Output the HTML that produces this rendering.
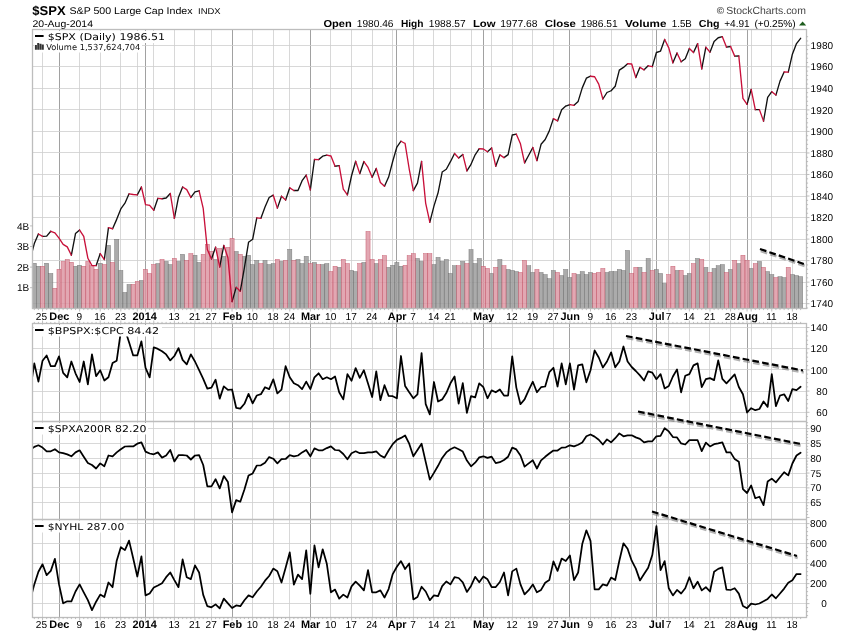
<!DOCTYPE html>
<html><head><meta charset="utf-8"><title>$SPX S&amp;P 500 Large Cap Index</title>
<style>html,body{margin:0;padding:0;background:#fff}svg{display:block}</style></head>
<body>
<svg width="850" height="633" viewBox="0 0 850 633">
<rect width="850" height="633" fill="#fff"/>
<defs><clipPath id="c1"><rect x="32.5" y="29.5" width="774.0" height="279.0"/></clipPath>
<clipPath id="c2"><rect x="32.5" y="323.5" width="774.0" height="98.0"/></clipPath>
<clipPath id="c3"><rect x="32.5" y="421.5" width="774.0" height="98.0"/></clipPath>
<clipPath id="c4"><rect x="32.5" y="519.5" width="774.0" height="98.0"/></clipPath><filter id="bl" x="-5%" y="-20%" width="110%" height="140%"><feGaussianBlur stdDeviation="0.7"/></filter></defs>
<path d="M42.5 29.5V308.5M79.5 29.5V308.5M100.5 29.5V308.5M120.5 29.5V308.5M137.5 29.5V308.5M153.5 29.5V308.5M174.5 29.5V308.5M194.5 29.5V308.5M211.5 29.5V308.5M252.5 29.5V308.5M273.5 29.5V308.5M289.5 29.5V308.5M330.5 29.5V308.5M351.5 29.5V308.5M372.5 29.5V308.5M392.5 29.5V308.5M413.5 29.5V308.5M433.5 29.5V308.5M450.5 29.5V308.5M471.5 29.5V308.5M491.5 29.5V308.5M512.5 29.5V308.5M532.5 29.5V308.5M553.5 29.5V308.5M590.5 29.5V308.5M611.5 29.5V308.5M631.5 29.5V308.5M652.5 29.5V308.5M668.5 29.5V308.5M689.5 29.5V308.5M709.5 29.5V308.5M730.5 29.5V308.5M751.5 29.5V308.5M771.5 29.5V308.5M792.5 29.5V308.5M42.5 323.5V617.5M79.5 323.5V617.5M100.5 323.5V617.5M120.5 323.5V617.5M137.5 323.5V617.5M153.5 323.5V617.5M174.5 323.5V617.5M194.5 323.5V617.5M211.5 323.5V617.5M252.5 323.5V617.5M273.5 323.5V617.5M289.5 323.5V617.5M330.5 323.5V617.5M351.5 323.5V617.5M372.5 323.5V617.5M392.5 323.5V617.5M413.5 323.5V617.5M433.5 323.5V617.5M450.5 323.5V617.5M471.5 323.5V617.5M491.5 323.5V617.5M512.5 323.5V617.5M532.5 323.5V617.5M553.5 323.5V617.5M590.5 323.5V617.5M611.5 323.5V617.5M631.5 323.5V617.5M652.5 323.5V617.5M668.5 323.5V617.5M689.5 323.5V617.5M709.5 323.5V617.5M730.5 323.5V617.5M751.5 323.5V617.5M771.5 323.5V617.5M792.5 323.5V617.5" stroke="#cecece" stroke-width="0.8" fill="none"/>
<path d="M59.5 29.5V308.5M145.5 29.5V308.5M232.5 29.5V308.5M310.5 29.5V308.5M396.5 29.5V308.5M483.5 29.5V308.5M569.5 29.5V308.5M656.5 29.5V308.5M747.5 29.5V308.5M59.5 323.5V617.5M145.5 323.5V617.5M232.5 323.5V617.5M310.5 323.5V617.5M396.5 323.5V617.5M483.5 323.5V617.5M569.5 323.5V617.5M656.5 323.5V617.5M747.5 323.5V617.5" stroke="#9c9c9c" stroke-width="0.95" fill="none"/>
<path d="M32.5 303.5H806.5M32.5 282.5H806.5M32.5 260.5H806.5M32.5 239.5H806.5M32.5 217.5H806.5M32.5 196.5H806.5M32.5 174.5H806.5M32.5 152.5H806.5M32.5 131.5H806.5M32.5 109.5H806.5M32.5 88.5H806.5M32.5 66.5H806.5M32.5 45.5H806.5M32.5 412.5H806.5M32.5 391.5H806.5M32.5 369.5H806.5M32.5 348.5H806.5M32.5 327.5H806.5M32.5 502.5H806.5M32.5 487.5H806.5M32.5 473.5H806.5M32.5 458.5H806.5M32.5 443.5H806.5M32.5 428.5H806.5M32.5 603.5H806.5M32.5 583.5H806.5M32.5 563.5H806.5M32.5 543.5H806.5M32.5 523.5H806.5" stroke="#cecece" stroke-width="0.8" fill="none"/>
<g fill="#9c9c9c" fill-opacity="0.85" stroke="#666" stroke-opacity="0.75" stroke-width="0.55"><rect x="32.24" y="263.3" width="4.12" height="45"/><rect x="36.36" y="266.3" width="4.12" height="42"/><rect x="44.6" y="263.3" width="4.12" height="45"/><rect x="48.72" y="273.5" width="4.12" height="34.8"/><rect x="73.44" y="266.3" width="4.12" height="42"/><rect x="77.56" y="265.3" width="4.12" height="43"/><rect x="98.16" y="263.3" width="4.12" height="45"/><rect x="106.4" y="245.4" width="4.12" height="62.9"/><rect x="114.64" y="239.3" width="4.12" height="69"/><rect x="118.76" y="270.5" width="4.12" height="37.8"/><rect x="122.88" y="292.5" width="4.12" height="15.8"/><rect x="127" y="284.5" width="4.12" height="23.8"/><rect x="139.36" y="280.5" width="4.12" height="27.8"/><rect x="155.84" y="263.6" width="4.12" height="44.7"/><rect x="164.08" y="261.5" width="4.12" height="46.8"/><rect x="168.2" y="264.6" width="4.12" height="43.7"/><rect x="176.44" y="261.5" width="4.12" height="46.8"/><rect x="180.56" y="254.4" width="4.12" height="53.9"/><rect x="192.92" y="255.3" width="4.12" height="53"/><rect x="197.04" y="262.5" width="4.12" height="45.8"/><rect x="213.52" y="259.5" width="4.12" height="48.8"/><rect x="221.76" y="256.4" width="4.12" height="51.9"/><rect x="234.12" y="251.5" width="4.12" height="56.8"/><rect x="242.36" y="256.4" width="4.12" height="51.9"/><rect x="246.48" y="255.3" width="4.12" height="53"/><rect x="250.6" y="264.6" width="4.12" height="43.7"/><rect x="254.72" y="260.6" width="4.12" height="47.7"/><rect x="262.96" y="260.6" width="4.12" height="47.7"/><rect x="267.08" y="264.6" width="4.12" height="43.7"/><rect x="271.2" y="263.6" width="4.12" height="44.7"/><rect x="279.44" y="261.5" width="4.12" height="46.8"/><rect x="287.68" y="249.4" width="4.12" height="58.9"/><rect x="295.92" y="259.5" width="4.12" height="48.8"/><rect x="300.04" y="263.6" width="4.12" height="44.7"/><rect x="304.16" y="256.4" width="4.12" height="51.9"/><rect x="312.4" y="262.5" width="4.12" height="45.8"/><rect x="320.64" y="264.6" width="4.12" height="43.7"/><rect x="324.76" y="263.6" width="4.12" height="44.7"/><rect x="337.12" y="267.4" width="4.12" height="40.9"/><rect x="349.48" y="270.5" width="4.12" height="37.8"/><rect x="353.6" y="271.6" width="4.12" height="36.7"/><rect x="361.84" y="262.5" width="4.12" height="45.8"/><rect x="374.2" y="263.6" width="4.12" height="44.7"/><rect x="386.56" y="267.4" width="4.12" height="40.9"/><rect x="390.68" y="265.4" width="4.12" height="42.9"/><rect x="394.8" y="262.5" width="4.12" height="45.8"/><rect x="398.92" y="266.3" width="4.12" height="42"/><rect x="415.4" y="258.5" width="4.12" height="49.8"/><rect x="419.52" y="261.5" width="4.12" height="46.8"/><rect x="431.88" y="264.6" width="4.12" height="43.7"/><rect x="436" y="257.4" width="4.12" height="50.9"/><rect x="440.12" y="261.5" width="4.12" height="46.8"/><rect x="444.24" y="259.5" width="4.12" height="48.8"/><rect x="448.36" y="273.5" width="4.12" height="34.8"/><rect x="452.48" y="265.7" width="4.12" height="42.6"/><rect x="460.72" y="261.5" width="4.12" height="46.8"/><rect x="468.96" y="249.6" width="4.12" height="58.7"/><rect x="473.08" y="263.6" width="4.12" height="44.7"/><rect x="477.2" y="258.5" width="4.12" height="49.8"/><rect x="489.56" y="273.5" width="4.12" height="34.8"/><rect x="497.8" y="259.5" width="4.12" height="48.8"/><rect x="506.04" y="269.5" width="4.12" height="38.8"/><rect x="510.16" y="270.5" width="4.12" height="37.8"/><rect x="514.28" y="271.6" width="4.12" height="36.7"/><rect x="526.64" y="265.7" width="4.12" height="42.6"/><rect x="530.76" y="272.5" width="4.12" height="35.8"/><rect x="539" y="272.5" width="4.12" height="35.8"/><rect x="543.12" y="274.6" width="4.12" height="33.7"/><rect x="547.24" y="278.7" width="4.12" height="29.6"/><rect x="551.36" y="270.5" width="4.12" height="37.8"/><rect x="559.6" y="275.6" width="4.12" height="32.7"/><rect x="563.72" y="269.5" width="4.12" height="38.8"/><rect x="567.84" y="277.6" width="4.12" height="30.7"/><rect x="576.08" y="274.6" width="4.12" height="33.7"/><rect x="580.2" y="271.6" width="4.12" height="36.7"/><rect x="584.32" y="274.6" width="4.12" height="33.7"/><rect x="588.44" y="272.5" width="4.12" height="35.8"/><rect x="604.92" y="272.5" width="4.12" height="35.8"/><rect x="609.04" y="271.6" width="4.12" height="36.7"/><rect x="613.16" y="271.6" width="4.12" height="36.7"/><rect x="617.28" y="269.5" width="4.12" height="38.8"/><rect x="621.4" y="270.5" width="4.12" height="37.8"/><rect x="625.52" y="250.5" width="4.12" height="57.8"/><rect x="637.88" y="267.4" width="4.12" height="40.9"/><rect x="646.12" y="258.5" width="4.12" height="49.8"/><rect x="654.36" y="269.5" width="4.12" height="38.8"/><rect x="658.48" y="273.5" width="4.12" height="34.8"/><rect x="662.6" y="283.5" width="4.12" height="24.8"/><rect x="674.96" y="270.5" width="4.12" height="37.8"/><rect x="683.2" y="275.6" width="4.12" height="32.7"/><rect x="687.32" y="273.5" width="4.12" height="34.8"/><rect x="695.56" y="258.5" width="4.12" height="49.8"/><rect x="703.8" y="267.4" width="4.12" height="40.9"/><rect x="712.04" y="268.5" width="4.12" height="39.8"/><rect x="716.16" y="265.7" width="4.12" height="42.6"/><rect x="720.28" y="264.6" width="4.12" height="43.7"/><rect x="728.52" y="269.5" width="4.12" height="38.8"/><rect x="736.76" y="263.6" width="4.12" height="44.7"/><rect x="749.12" y="268.5" width="4.12" height="39.8"/><rect x="757.36" y="261.5" width="4.12" height="46.8"/><rect x="765.6" y="271.6" width="4.12" height="36.7"/><rect x="769.72" y="274.6" width="4.12" height="33.7"/><rect x="777.96" y="276.7" width="4.12" height="31.6"/><rect x="782.08" y="277.6" width="4.12" height="30.7"/><rect x="790.32" y="274.6" width="4.12" height="33.7"/><rect x="794.44" y="275.6" width="4.12" height="32.7"/><rect x="798.56" y="276.7" width="4.12" height="31.6"/></g>
<g fill="#dc94a1" fill-opacity="0.82" stroke="#c0485c" stroke-opacity="0.75" stroke-width="0.55"><rect x="40.48" y="266.3" width="4.12" height="42"/><rect x="52.84" y="288.3" width="4.12" height="20"/><rect x="56.96" y="269.3" width="4.12" height="39"/><rect x="61.08" y="261.5" width="4.12" height="46.8"/><rect x="65.2" y="259.5" width="4.12" height="48.8"/><rect x="69.32" y="262.3" width="4.12" height="46"/><rect x="81.68" y="266.3" width="4.12" height="42"/><rect x="85.8" y="261.5" width="4.12" height="46.8"/><rect x="89.92" y="265.7" width="4.12" height="42.6"/><rect x="94.04" y="269.3" width="4.12" height="39"/><rect x="102.28" y="264.6" width="4.12" height="43.7"/><rect x="110.52" y="262.5" width="4.12" height="45.8"/><rect x="131.12" y="284.5" width="4.12" height="23.8"/><rect x="135.24" y="281.5" width="4.12" height="26.8"/><rect x="143.48" y="269.4" width="4.12" height="38.9"/><rect x="147.6" y="273.5" width="4.12" height="34.8"/><rect x="151.72" y="264.6" width="4.12" height="43.7"/><rect x="159.96" y="259.5" width="4.12" height="48.8"/><rect x="172.32" y="258.4" width="4.12" height="49.9"/><rect x="184.68" y="260.6" width="4.12" height="47.7"/><rect x="188.8" y="253.6" width="4.12" height="54.7"/><rect x="201.16" y="254.4" width="4.12" height="53.9"/><rect x="205.28" y="244.3" width="4.12" height="64"/><rect x="209.4" y="251.3" width="4.12" height="57"/><rect x="217.64" y="248.5" width="4.12" height="59.8"/><rect x="225.88" y="247.4" width="4.12" height="60.9"/><rect x="230" y="238.4" width="4.12" height="69.9"/><rect x="238.24" y="254.4" width="4.12" height="53.9"/><rect x="258.84" y="263.6" width="4.12" height="44.7"/><rect x="275.32" y="259.5" width="4.12" height="48.8"/><rect x="283.56" y="260.6" width="4.12" height="47.7"/><rect x="291.8" y="260.6" width="4.12" height="47.7"/><rect x="308.28" y="263.6" width="4.12" height="44.7"/><rect x="316.52" y="264.6" width="4.12" height="43.7"/><rect x="328.88" y="271.6" width="4.12" height="36.7"/><rect x="333" y="266.3" width="4.12" height="42"/><rect x="341.24" y="259.5" width="4.12" height="48.8"/><rect x="345.36" y="263.6" width="4.12" height="44.7"/><rect x="357.72" y="263.6" width="4.12" height="44.7"/><rect x="365.96" y="231.5" width="4.12" height="76.8"/><rect x="370.08" y="259.5" width="4.12" height="48.8"/><rect x="378.32" y="259.5" width="4.12" height="48.8"/><rect x="382.44" y="255.6" width="4.12" height="52.7"/><rect x="403.04" y="265.4" width="4.12" height="42.9"/><rect x="407.16" y="255.6" width="4.12" height="52.7"/><rect x="411.28" y="253.6" width="4.12" height="54.7"/><rect x="423.64" y="253.6" width="4.12" height="54.7"/><rect x="427.76" y="253.6" width="4.12" height="54.7"/><rect x="456.6" y="265.7" width="4.12" height="42.6"/><rect x="464.84" y="263.6" width="4.12" height="44.7"/><rect x="481.32" y="266.3" width="4.12" height="42"/><rect x="485.44" y="268.5" width="4.12" height="39.8"/><rect x="493.68" y="267.4" width="4.12" height="40.9"/><rect x="501.92" y="265.7" width="4.12" height="42.6"/><rect x="518.4" y="272.5" width="4.12" height="35.8"/><rect x="522.52" y="260.6" width="4.12" height="47.7"/><rect x="534.88" y="269.5" width="4.12" height="38.8"/><rect x="555.48" y="272.5" width="4.12" height="35.8"/><rect x="571.96" y="273.5" width="4.12" height="34.8"/><rect x="592.56" y="273.5" width="4.12" height="34.8"/><rect x="596.68" y="272.5" width="4.12" height="35.8"/><rect x="600.8" y="268.5" width="4.12" height="39.8"/><rect x="629.64" y="273.5" width="4.12" height="34.8"/><rect x="633.76" y="267.4" width="4.12" height="40.9"/><rect x="642" y="272.5" width="4.12" height="35.8"/><rect x="650.24" y="270.5" width="4.12" height="37.8"/><rect x="666.72" y="274.6" width="4.12" height="33.7"/><rect x="670.84" y="266.3" width="4.12" height="42"/><rect x="679.08" y="270.5" width="4.12" height="37.8"/><rect x="691.44" y="263.6" width="4.12" height="44.7"/><rect x="699.68" y="259.5" width="4.12" height="48.8"/><rect x="707.92" y="272.5" width="4.12" height="35.8"/><rect x="724.4" y="272.5" width="4.12" height="35.8"/><rect x="732.64" y="260.6" width="4.12" height="47.7"/><rect x="740.88" y="255.3" width="4.12" height="53"/><rect x="745" y="260.6" width="4.12" height="47.7"/><rect x="753.24" y="263.6" width="4.12" height="44.7"/><rect x="761.48" y="267.4" width="4.12" height="40.9"/><rect x="773.84" y="277.6" width="4.12" height="30.7"/><rect x="786.2" y="267.4" width="4.12" height="40.9"/></g>
<g clip-path="url(#c1)" fill="none" stroke-width="1.35" stroke-linecap="round" stroke-linejoin="round"><path d="M30.18 259.15L34.3 243.56M34.3 243.56L38.42 233.96M42.54 236.42L46.66 236.13M46.66 236.13L50.78 231.3M71.38 255.2L75.5 233.61M75.5 233.61L79.62 230.08M96.1 265.66L100.22 253.58M104.34 259.54L108.46 227.62M112.58 228.75L116.7 219.36M116.7 219.36L120.82 208.95M120.82 208.95L124.94 203.22M124.94 203.22L129.06 193.85M137.3 194.87L141.42 187.02M153.78 210.27L157.9 198.31M162.02 198.73L166.14 198.04M166.14 198.04L170.26 193.47M174.38 218.42L178.5 197.23M178.5 197.23L182.62 187M190.86 197.42L194.98 191.93M194.98 191.93L199.1 190.79M211.46 258.94L215.58 247.16M219.7 266.86L223.82 245.34M232.06 301.65L236.18 287.32M240.3 291.15L244.42 267.69M244.42 267.69L248.54 242.3M248.54 242.3L252.66 239.26M252.66 239.26L256.78 217.83M260.9 218.35L265.02 206.97M265.02 206.97L269.14 197.5M269.14 197.5L273.26 195.21M277.38 208.14L281.5 196.26M285.62 200.06L289.74 187.83M293.86 190.51L297.98 190.47M297.98 190.47L302.1 180.64M302.1 180.64L306.22 175.08M310.34 189.86L314.46 159.52M318.58 159.62L322.7 156.16M322.7 156.16L326.82 155.07M335.06 166.28L339.18 165.66M347.42 194.81L351.54 175.75M351.54 175.75L355.66 161.3M359.78 173.66L363.9 161.56M372.14 177.25L376.26 168.44M384.5 186.29L388.62 177.05M388.62 177.05L392.74 161.21M392.74 161.21L396.86 147.02M396.86 147.02L400.98 141.23M413.34 190.6L417.46 183.15M417.46 183.15L421.58 161.38M429.82 222.2L433.94 206.13M433.94 206.13L438.06 192.82M438.06 192.82L442.18 172.01M442.18 172.01L446.3 169.27M446.3 169.27L450.42 161.69M450.42 161.69L454.54 153.44M458.66 157.92L462.78 154.46M466.9 170.83L471.02 164.34M471.02 164.34L475.14 154.76M475.14 154.76L479.26 148.71M487.5 151.73L491.62 147.94M495.74 166.18L499.86 154.89M503.98 157.66L508.1 154.6M508.1 154.6L512.22 135.03M512.22 135.03L516.34 134.17M524.58 162.81L528.7 155.26M528.7 155.26L532.82 147.49M536.94 160.68L541.06 144.31M541.06 144.31L545.18 139.51M545.18 139.51L549.3 130.86M549.3 130.86L553.42 118.61M557.54 120.9L561.66 109.86M561.66 109.86L565.78 106.05M565.78 106.05L569.9 104.55M574.02 105.33L578.14 101.41M578.14 101.41L582.26 87.87M582.26 87.87L586.38 78.2M586.38 78.2L590.5 76.23M602.86 99.01L606.98 92.5M606.98 92.5L611.1 90.75M611.1 90.75L615.22 86.22M615.22 86.22L619.34 70.08M619.34 70.08L623.46 67.39M623.46 67.39L627.58 63.74M635.82 77.62L639.94 67.34M644.06 69.82L648.18 65.8M652.3 66.58L656.42 52.49M656.42 52.49L660.54 51.09M660.54 51.09L664.66 39.44M672.9 62.84L677.02 53.02M681.14 61.79L685.26 58.68M685.26 58.68L689.38 48.42M693.5 52.53L697.62 43.61M701.74 68.86L705.86 47.22M709.98 52.16L714.1 41.5M714.1 41.5L718.22 37.75M718.22 37.75L722.34 36.71M726.46 47.09L730.58 46.47M734.7 56.12L738.82 55.99M747.06 104.35L751.18 89.45M755.3 109.67L759.42 109.64M763.54 121.12L767.66 97.42M767.66 97.42L771.78 91.68M775.9 95.09L780.02 81.13M780.02 81.13L784.14 72.02M788.26 72.15L792.38 54.19M792.38 54.19L796.5 43.58M796.5 43.58L800.62 38.29" stroke="#111"/><path d="M38.42 233.96L42.54 236.42M50.78 231.3L54.9 232.83M54.9 232.83L59.02 238.12M59.02 238.12L63.14 244.31M63.14 244.31L67.26 246.83M67.26 246.83L71.38 255.2M79.62 230.08L83.74 236.27M83.74 236.27L87.86 258.23M87.86 258.23L91.98 265.46M91.98 265.46L96.1 265.66M100.22 253.58L104.34 259.54M108.46 227.62L112.58 228.75M129.06 193.85L133.18 194.52M133.18 194.52L137.3 194.87M141.42 187.02L145.54 204.66M145.54 204.66L149.66 205.32M149.66 205.32L153.78 210.27M157.9 198.31L162.02 198.73M170.26 193.47L174.38 218.42M182.62 187L186.74 189.68M186.74 189.68L190.86 197.42M199.1 190.79L203.22 208.45M203.22 208.45L207.34 249.54M207.34 249.54L211.46 258.94M215.58 247.16L219.7 266.86M223.82 245.34L227.94 257.83M227.94 257.83L232.06 301.65M236.18 287.32L240.3 291.15M256.78 217.83L260.9 218.35M273.26 195.21L277.38 208.14M281.5 196.26L285.62 200.06M289.74 187.83L293.86 190.51M306.22 175.08L310.34 189.86M314.46 159.52L318.58 159.62M326.82 155.07L330.94 156.01M330.94 156.01L335.06 166.28M339.18 165.66L343.3 189.2M343.3 189.2L347.42 194.81M355.66 161.3L359.78 173.66M363.9 161.56L368.02 167.47M368.02 167.47L372.14 177.25M376.26 168.44L380.38 182.5M380.38 182.5L384.5 186.29M400.98 141.23L405.1 143.52M405.1 143.52L409.22 169.01M409.22 169.01L413.34 190.6M421.58 161.38L425.7 203.47M425.7 203.47L429.82 222.2M454.54 153.44L458.66 157.92M462.78 154.46L466.9 170.83M479.26 148.71L483.38 149M483.38 149L487.5 151.73M491.62 147.94L495.74 166.18M499.86 154.89L503.98 157.66M516.34 134.17L520.46 143.78M520.46 143.78L524.58 162.81M532.82 147.49L536.94 160.68M553.42 118.61L557.54 120.9M569.9 104.55L574.02 105.33M590.5 76.23L594.62 76.75M594.62 76.75L598.74 84.18M598.74 84.18L602.86 99.01M627.58 63.74L631.7 64.02M631.7 64.02L635.82 77.62M639.94 67.34L644.06 69.82M648.18 65.8L652.3 66.58M664.66 39.44L668.78 47.83M668.78 47.83L672.9 62.84M677.02 53.02L681.14 61.79M689.38 48.42L693.5 52.53M697.62 43.61L701.74 68.86M705.86 47.22L709.98 52.16M722.34 36.71L726.46 47.09M730.58 46.47L734.7 56.12M738.82 55.99L742.94 98.41M742.94 98.41L747.06 104.35M751.18 89.45L755.3 109.67M759.42 109.64L763.54 121.12M771.78 91.68L775.9 95.09M784.14 72.02L788.26 72.15" stroke="#c8103a"/></g>
<polyline clip-path="url(#c2)" points="30.18,390 34.3,363.4 38.42,381.6 42.54,360.7 46.66,355.5 50.78,366.2 54.9,366.2 59.02,356.4 63.14,372.9 67.26,377.3 71.38,361.5 75.5,373.3 79.62,382 83.74,361.5 87.86,384.4 91.98,354.4 96.1,376.2 100.22,370.2 104.34,380.5 108.46,377.3 112.58,363.1 116.7,360.7 120.82,331.7 124.94,329.5 129.06,342.2 133.18,355.4 137.3,355.4 141.42,341.3 145.54,367.8 149.66,377.3 153.78,347.3 157.9,348.9 162.02,351.2 166.14,354.4 170.26,360.4 174.38,356 178.5,348.1 182.62,359.9 186.74,364.3 190.86,354.4 194.98,361.5 199.1,370.2 203.22,378.9 207.34,388.7 211.46,387.6 215.58,379.7 219.7,398.6 223.82,386.3 227.94,389.9 232.06,389.5 236.18,407.8 240.3,408.6 244.42,403.8 248.54,393.9 252.66,403.4 256.78,395.5 260.9,394.2 265.02,387.2 269.14,389.1 273.26,379.3 277.38,393.4 281.5,389.6 285.62,366.2 289.74,377.3 293.86,383.3 297.98,385.2 302.1,389.1 306.22,381.6 310.34,389.1 314.46,377.3 318.58,373.3 322.7,379.2 326.82,377.3 330.94,379.2 335.06,376.5 339.18,392.3 343.3,399.4 347.42,374.1 351.54,380.8 355.66,368.1 359.78,377.8 363.9,370.2 368.02,383.6 372.14,397 376.26,371.4 380.38,400.2 384.5,385.2 388.62,395.9 392.74,396.2 396.86,398.3 400.98,356 405.1,386 409.22,392.3 413.34,398.3 417.46,394.4 421.58,353.1 425.7,404.2 429.82,414.4 433.94,382 438.06,401.5 442.18,399.4 446.3,393.1 450.42,383.3 454.54,376.5 458.66,403.7 462.78,383.1 466.9,412.8 471.02,396.2 475.14,397.4 479.26,383.3 483.38,387.2 487.5,398.3 491.62,390.4 495.74,392.3 499.86,389.5 503.98,395.5 508.1,395.5 512.22,356.3 516.34,387.6 520.46,404.2 524.58,399.4 528.7,390.2 532.82,381.7 536.94,392.3 541.06,387.2 545.18,386.5 549.3,372.2 553.42,367.8 557.54,386.5 561.66,363.4 565.78,384.4 569.9,363.4 574.02,389.5 578.14,365.4 582.26,364.3 586.38,382.3 590.5,370.2 594.62,350.4 598.74,357.5 602.86,367.5 606.98,361.5 611.1,352.3 615.22,367.3 619.34,361.5 623.46,346.5 627.58,361.5 631.7,367 635.82,371 639.94,375.4 644.06,380.5 648.18,371.3 652.3,372.6 656.42,379.2 660.54,374.1 664.66,388.4 668.78,386 672.9,376.5 677.02,369.4 681.14,392.3 685.26,375.7 689.38,374.1 693.5,365.4 697.62,363.4 701.74,387.1 705.86,379.2 709.98,378.1 714.1,380.1 718.22,360.4 722.34,378.9 726.46,383.3 730.58,378.9 734.7,374.4 738.82,387 742.94,394.3 747.06,412.5 751.18,408.2 755.3,410.2 759.42,409 763.54,401.5 767.66,406.9 771.78,374.2 775.9,406.2 780.02,395.5 784.14,394.3 788.26,401 792.38,389.1 796.5,390.1 800.62,386.8" fill="none" stroke="#000" stroke-width="1.75" stroke-linejoin="round" stroke-linecap="round"/>
<polyline clip-path="url(#c3)" points="30.18,450 34.3,446.9 38.42,445.3 42.54,447.6 46.66,451.3 50.78,451.3 54.9,449.2 59.02,452.4 63.14,453.2 67.26,454.4 71.38,456.3 75.5,452.4 79.62,450.3 83.74,456.7 87.86,463 91.98,465 96.1,468.5 100.22,463.4 104.34,466.3 108.46,455.5 112.58,456.3 116.7,452.4 120.82,449.2 124.94,446.5 129.06,446.4 133.18,446.4 137.3,443.7 141.42,442.4 145.54,451.6 149.66,453.5 153.78,454.3 157.9,452.4 162.02,457.6 166.14,455.5 170.26,450 174.38,461.4 178.5,455.2 182.62,455.2 186.74,455.5 190.86,459.5 194.98,455.5 199.1,455.2 203.22,465 207.34,486.4 211.46,486.4 215.58,479.2 219.7,488.4 223.82,476.1 227.94,482.1 232.06,512.4 236.18,500.1 240.3,501.7 244.42,489.5 248.54,475.6 252.66,473.4 256.78,465.5 260.9,465.3 265.02,462.7 269.14,457.1 273.26,458.7 277.38,463.4 281.5,459.2 285.62,459 289.74,455.2 293.86,456.3 297.98,455.5 302.1,452.4 306.22,450 310.34,456.3 314.46,448.4 318.58,450.3 322.7,450.3 326.82,448.1 330.94,446.4 335.06,450 339.18,450.3 343.3,454 347.42,459.2 351.54,453.2 355.66,451.3 359.78,453.2 363.9,453.2 368.02,452.4 372.14,452.4 376.26,451.3 380.38,455.5 384.5,457.6 388.62,450.5 392.74,444.1 396.86,439.9 400.98,437.9 405.1,435.5 409.22,443.7 413.34,456.3 417.46,450 421.58,443.7 425.7,461.9 429.82,479.6 433.94,472.9 438.06,465.8 442.18,457.9 446.3,452.4 450.42,449.2 454.54,447.3 458.66,449.2 462.78,451.6 466.9,460.6 471.02,466.3 475.14,462.7 479.26,457.4 483.38,456.3 487.5,457.9 491.62,456.7 495.74,463.1 499.86,462.2 503.98,460 508.1,456.7 512.22,447.6 516.34,449.4 520.46,455.5 524.58,466.6 528.7,463.4 532.82,460.3 536.94,468.5 541.06,460.3 545.18,456.8 549.3,453.5 553.42,450.5 557.54,450.5 561.66,447.6 565.78,447.3 569.9,445.3 574.02,446.4 578.14,444.8 582.26,442.6 586.38,436.3 590.5,434.5 594.62,436.6 598.74,439.7 602.86,444.5 606.98,439.4 611.1,442.4 615.22,438.2 619.34,433.4 623.46,436.3 627.58,435.3 631.7,435.3 635.82,437.4 639.94,438.8 644.06,442.4 648.18,441.3 652.3,441.3 656.42,436.3 660.54,435.8 664.66,428.2 668.78,431.4 672.9,437.1 677.02,437.4 681.14,443.4 685.26,444.5 689.38,440.2 693.5,440.1 697.62,440.2 701.74,451.1 705.86,442.6 709.98,446.4 714.1,444.2 718.22,443.4 722.34,442.4 726.46,452.4 730.58,452.4 734.7,459.1 738.82,461.7 742.94,489.1 747.06,493 751.18,485.4 755.3,498.2 759.42,496.7 763.54,505.2 767.66,481.5 771.78,478.6 775.9,482.4 780.02,477.3 784.14,472.2 788.26,475.4 792.38,463.5 796.5,455.5 800.62,452.7" fill="none" stroke="#000" stroke-width="1.75" stroke-linejoin="round" stroke-linecap="round"/>
<polyline clip-path="url(#c4)" points="30.18,600 34.3,584.4 38.42,571.7 42.54,564.3 46.66,575.2 50.78,570.9 54.9,558.8 59.02,584.4 63.14,603.3 67.26,601.3 71.38,601.3 75.5,591.5 79.62,584.4 83.74,592.3 87.86,600.2 91.98,610.1 96.1,601.7 100.22,594.6 104.34,597 108.46,582.5 112.58,587.2 116.7,560.7 120.82,547.2 124.94,550.1 129.06,540.6 133.18,558.3 137.3,576.5 141.42,556.4 145.54,595.4 149.66,593.5 153.78,587.5 157.9,585.5 162.02,583.2 166.14,577.2 170.26,572.5 174.38,580.1 178.5,587.2 182.62,559.4 186.74,577.2 190.86,579.1 194.98,565.4 199.1,572.5 203.22,594.9 207.34,606.2 211.46,607.3 215.58,604.4 219.7,608.4 223.82,598.6 227.94,603.3 232.06,608 236.18,605.4 240.3,606.2 244.42,600.2 248.54,595.4 252.66,597.3 256.78,591.5 260.9,586.7 265.02,580.7 269.14,576 273.26,568.6 277.38,571.2 281.5,582.5 285.62,567.8 289.74,552.4 293.86,584.7 297.98,574.6 302.1,579.1 306.22,550.4 310.34,593.8 314.46,545.3 318.58,567.4 322.7,549.3 326.82,563.8 330.94,592.3 335.06,589.6 339.18,598.6 343.3,594.6 347.42,597.5 351.54,586.4 355.66,581.7 359.78,585.6 363.9,590.4 368.02,570.1 372.14,592.3 376.26,592.3 380.38,590.4 384.5,597.5 388.62,589.1 392.74,574.1 396.86,566.7 400.98,561.1 405.1,569 409.22,563.5 413.34,599.4 417.46,597 421.58,586.7 425.7,591.5 429.82,600.2 433.94,595.4 438.06,596.2 442.18,586.2 446.3,581.5 450.42,584.4 454.54,577.2 458.66,578 462.78,582.3 466.9,591.9 471.02,585.9 475.14,576.8 479.26,582.3 483.38,576.5 487.5,579.3 491.62,587 495.74,587 499.86,582 503.98,572.5 508.1,595.4 512.22,571.4 516.34,568.6 520.46,584.4 524.58,594.3 528.7,590.2 532.82,584.4 536.94,592.3 541.06,589.9 545.18,582.8 549.3,580.1 553.42,561.4 557.54,570.9 561.66,558.6 565.78,561.1 569.9,555.4 574.02,580.1 578.14,572.5 582.26,544.1 586.38,530.3 590.5,540.9 594.62,589.4 598.74,589.4 602.86,584.4 606.98,585.6 611.1,577.6 615.22,580.1 619.34,560.7 623.46,543.3 627.58,548.8 631.7,560.7 635.82,568.6 639.94,580.4 644.06,574.1 648.18,567.8 652.3,555.1 656.42,526.2 660.54,570.1 664.66,561.1 668.78,588.3 672.9,595.4 677.02,589.9 681.14,593.5 685.26,588.3 689.38,577.2 693.5,588.3 697.62,581.7 701.74,590.4 705.86,587.2 709.98,591.5 714.1,571.7 718.22,568.9 722.34,567.4 726.46,589.6 730.58,590 734.7,588.2 738.82,593.6 742.94,606 747.06,608.2 751.18,603.6 755.3,604.5 759.42,603.5 763.54,601.3 767.66,598.9 771.78,594.5 775.9,598.3 780.02,593.5 784.14,588.6 788.26,582.8 792.38,580.3 796.5,574.1 800.62,574.1" fill="none" stroke="#000" stroke-width="1.75" stroke-linejoin="round" stroke-linecap="round"/>
<g fill="none" stroke="#bdbdbd" stroke-width="1.3">
<rect x="32.5" y="29.5" width="774.0" height="279.0"/>
<rect x="32.5" y="323.5" width="774.0" height="294.0"/>
<path d="M32.5 421.5H806.5M32.5 519.5H806.5"/>
</g>
<path d="M34.3 308.5v1.6M34.3 617.5v1.6M34.3 323.5v-1.6M38.42 308.5v1.6M38.42 617.5v1.6M38.42 323.5v-1.6M42.54 308.5v3M42.54 617.5v3M42.54 323.5v-3M46.66 308.5v1.6M46.66 617.5v1.6M46.66 323.5v-1.6M50.78 308.5v1.6M50.78 617.5v1.6M50.78 323.5v-1.6M54.9 308.5v1.6M54.9 617.5v1.6M54.9 323.5v-1.6M59.02 308.5v3M59.02 617.5v3M59.02 323.5v-3M63.14 308.5v1.6M63.14 617.5v1.6M63.14 323.5v-1.6M67.26 308.5v1.6M67.26 617.5v1.6M67.26 323.5v-1.6M71.38 308.5v1.6M71.38 617.5v1.6M71.38 323.5v-1.6M75.5 308.5v1.6M75.5 617.5v1.6M75.5 323.5v-1.6M79.62 308.5v3M79.62 617.5v3M79.62 323.5v-3M83.74 308.5v1.6M83.74 617.5v1.6M83.74 323.5v-1.6M87.86 308.5v1.6M87.86 617.5v1.6M87.86 323.5v-1.6M91.98 308.5v1.6M91.98 617.5v1.6M91.98 323.5v-1.6M96.1 308.5v1.6M96.1 617.5v1.6M96.1 323.5v-1.6M100.22 308.5v3M100.22 617.5v3M100.22 323.5v-3M104.34 308.5v1.6M104.34 617.5v1.6M104.34 323.5v-1.6M108.46 308.5v1.6M108.46 617.5v1.6M108.46 323.5v-1.6M112.58 308.5v1.6M112.58 617.5v1.6M112.58 323.5v-1.6M116.7 308.5v1.6M116.7 617.5v1.6M116.7 323.5v-1.6M120.82 308.5v3M120.82 617.5v3M120.82 323.5v-3M124.94 308.5v1.6M124.94 617.5v1.6M124.94 323.5v-1.6M129.06 308.5v1.6M129.06 617.5v1.6M129.06 323.5v-1.6M133.18 308.5v1.6M133.18 617.5v1.6M133.18 323.5v-1.6M137.3 308.5v3M137.3 617.5v3M137.3 323.5v-3M141.42 308.5v1.6M141.42 617.5v1.6M141.42 323.5v-1.6M145.54 308.5v3M145.54 617.5v3M145.54 323.5v-3M149.66 308.5v1.6M149.66 617.5v1.6M149.66 323.5v-1.6M153.78 308.5v3M153.78 617.5v3M153.78 323.5v-3M157.9 308.5v1.6M157.9 617.5v1.6M157.9 323.5v-1.6M162.02 308.5v1.6M162.02 617.5v1.6M162.02 323.5v-1.6M166.14 308.5v1.6M166.14 617.5v1.6M166.14 323.5v-1.6M170.26 308.5v1.6M170.26 617.5v1.6M170.26 323.5v-1.6M174.38 308.5v3M174.38 617.5v3M174.38 323.5v-3M178.5 308.5v1.6M178.5 617.5v1.6M178.5 323.5v-1.6M182.62 308.5v1.6M182.62 617.5v1.6M182.62 323.5v-1.6M186.74 308.5v1.6M186.74 617.5v1.6M186.74 323.5v-1.6M190.86 308.5v1.6M190.86 617.5v1.6M190.86 323.5v-1.6M194.98 308.5v3M194.98 617.5v3M194.98 323.5v-3M199.1 308.5v1.6M199.1 617.5v1.6M199.1 323.5v-1.6M203.22 308.5v1.6M203.22 617.5v1.6M203.22 323.5v-1.6M207.34 308.5v1.6M207.34 617.5v1.6M207.34 323.5v-1.6M211.46 308.5v3M211.46 617.5v3M211.46 323.5v-3M215.58 308.5v1.6M215.58 617.5v1.6M215.58 323.5v-1.6M219.7 308.5v1.6M219.7 617.5v1.6M219.7 323.5v-1.6M223.82 308.5v1.6M223.82 617.5v1.6M223.82 323.5v-1.6M227.94 308.5v1.6M227.94 617.5v1.6M227.94 323.5v-1.6M232.06 308.5v3M232.06 617.5v3M232.06 323.5v-3M236.18 308.5v1.6M236.18 617.5v1.6M236.18 323.5v-1.6M240.3 308.5v1.6M240.3 617.5v1.6M240.3 323.5v-1.6M244.42 308.5v1.6M244.42 617.5v1.6M244.42 323.5v-1.6M248.54 308.5v1.6M248.54 617.5v1.6M248.54 323.5v-1.6M252.66 308.5v3M252.66 617.5v3M252.66 323.5v-3M256.78 308.5v1.6M256.78 617.5v1.6M256.78 323.5v-1.6M260.9 308.5v1.6M260.9 617.5v1.6M260.9 323.5v-1.6M265.02 308.5v1.6M265.02 617.5v1.6M265.02 323.5v-1.6M269.14 308.5v1.6M269.14 617.5v1.6M269.14 323.5v-1.6M273.26 308.5v3M273.26 617.5v3M273.26 323.5v-3M277.38 308.5v1.6M277.38 617.5v1.6M277.38 323.5v-1.6M281.5 308.5v1.6M281.5 617.5v1.6M281.5 323.5v-1.6M285.62 308.5v1.6M285.62 617.5v1.6M285.62 323.5v-1.6M289.74 308.5v3M289.74 617.5v3M289.74 323.5v-3M293.86 308.5v1.6M293.86 617.5v1.6M293.86 323.5v-1.6M297.98 308.5v1.6M297.98 617.5v1.6M297.98 323.5v-1.6M302.1 308.5v1.6M302.1 617.5v1.6M302.1 323.5v-1.6M306.22 308.5v1.6M306.22 617.5v1.6M306.22 323.5v-1.6M310.34 308.5v3M310.34 617.5v3M310.34 323.5v-3M314.46 308.5v1.6M314.46 617.5v1.6M314.46 323.5v-1.6M318.58 308.5v1.6M318.58 617.5v1.6M318.58 323.5v-1.6M322.7 308.5v1.6M322.7 617.5v1.6M322.7 323.5v-1.6M326.82 308.5v1.6M326.82 617.5v1.6M326.82 323.5v-1.6M330.94 308.5v3M330.94 617.5v3M330.94 323.5v-3M335.06 308.5v1.6M335.06 617.5v1.6M335.06 323.5v-1.6M339.18 308.5v1.6M339.18 617.5v1.6M339.18 323.5v-1.6M343.3 308.5v1.6M343.3 617.5v1.6M343.3 323.5v-1.6M347.42 308.5v1.6M347.42 617.5v1.6M347.42 323.5v-1.6M351.54 308.5v3M351.54 617.5v3M351.54 323.5v-3M355.66 308.5v1.6M355.66 617.5v1.6M355.66 323.5v-1.6M359.78 308.5v1.6M359.78 617.5v1.6M359.78 323.5v-1.6M363.9 308.5v1.6M363.9 617.5v1.6M363.9 323.5v-1.6M368.02 308.5v1.6M368.02 617.5v1.6M368.02 323.5v-1.6M372.14 308.5v3M372.14 617.5v3M372.14 323.5v-3M376.26 308.5v1.6M376.26 617.5v1.6M376.26 323.5v-1.6M380.38 308.5v1.6M380.38 617.5v1.6M380.38 323.5v-1.6M384.5 308.5v1.6M384.5 617.5v1.6M384.5 323.5v-1.6M388.62 308.5v1.6M388.62 617.5v1.6M388.62 323.5v-1.6M392.74 308.5v3M392.74 617.5v3M392.74 323.5v-3M396.86 308.5v3M396.86 617.5v3M396.86 323.5v-3M400.98 308.5v1.6M400.98 617.5v1.6M400.98 323.5v-1.6M405.1 308.5v1.6M405.1 617.5v1.6M405.1 323.5v-1.6M409.22 308.5v1.6M409.22 617.5v1.6M409.22 323.5v-1.6M413.34 308.5v3M413.34 617.5v3M413.34 323.5v-3M417.46 308.5v1.6M417.46 617.5v1.6M417.46 323.5v-1.6M421.58 308.5v1.6M421.58 617.5v1.6M421.58 323.5v-1.6M425.7 308.5v1.6M425.7 617.5v1.6M425.7 323.5v-1.6M429.82 308.5v1.6M429.82 617.5v1.6M429.82 323.5v-1.6M433.94 308.5v3M433.94 617.5v3M433.94 323.5v-3M438.06 308.5v1.6M438.06 617.5v1.6M438.06 323.5v-1.6M442.18 308.5v1.6M442.18 617.5v1.6M442.18 323.5v-1.6M446.3 308.5v1.6M446.3 617.5v1.6M446.3 323.5v-1.6M450.42 308.5v3M450.42 617.5v3M450.42 323.5v-3M454.54 308.5v1.6M454.54 617.5v1.6M454.54 323.5v-1.6M458.66 308.5v1.6M458.66 617.5v1.6M458.66 323.5v-1.6M462.78 308.5v1.6M462.78 617.5v1.6M462.78 323.5v-1.6M466.9 308.5v1.6M466.9 617.5v1.6M466.9 323.5v-1.6M471.02 308.5v3M471.02 617.5v3M471.02 323.5v-3M475.14 308.5v1.6M475.14 617.5v1.6M475.14 323.5v-1.6M479.26 308.5v1.6M479.26 617.5v1.6M479.26 323.5v-1.6M483.38 308.5v3M483.38 617.5v3M483.38 323.5v-3M487.5 308.5v1.6M487.5 617.5v1.6M487.5 323.5v-1.6M491.62 308.5v3M491.62 617.5v3M491.62 323.5v-3M495.74 308.5v1.6M495.74 617.5v1.6M495.74 323.5v-1.6M499.86 308.5v1.6M499.86 617.5v1.6M499.86 323.5v-1.6M503.98 308.5v1.6M503.98 617.5v1.6M503.98 323.5v-1.6M508.1 308.5v1.6M508.1 617.5v1.6M508.1 323.5v-1.6M512.22 308.5v3M512.22 617.5v3M512.22 323.5v-3M516.34 308.5v1.6M516.34 617.5v1.6M516.34 323.5v-1.6M520.46 308.5v1.6M520.46 617.5v1.6M520.46 323.5v-1.6M524.58 308.5v1.6M524.58 617.5v1.6M524.58 323.5v-1.6M528.7 308.5v1.6M528.7 617.5v1.6M528.7 323.5v-1.6M532.82 308.5v3M532.82 617.5v3M532.82 323.5v-3M536.94 308.5v1.6M536.94 617.5v1.6M536.94 323.5v-1.6M541.06 308.5v1.6M541.06 617.5v1.6M541.06 323.5v-1.6M545.18 308.5v1.6M545.18 617.5v1.6M545.18 323.5v-1.6M549.3 308.5v1.6M549.3 617.5v1.6M549.3 323.5v-1.6M553.42 308.5v3M553.42 617.5v3M553.42 323.5v-3M557.54 308.5v1.6M557.54 617.5v1.6M557.54 323.5v-1.6M561.66 308.5v1.6M561.66 617.5v1.6M561.66 323.5v-1.6M565.78 308.5v1.6M565.78 617.5v1.6M565.78 323.5v-1.6M569.9 308.5v3M569.9 617.5v3M569.9 323.5v-3M574.02 308.5v1.6M574.02 617.5v1.6M574.02 323.5v-1.6M578.14 308.5v1.6M578.14 617.5v1.6M578.14 323.5v-1.6M582.26 308.5v1.6M582.26 617.5v1.6M582.26 323.5v-1.6M586.38 308.5v1.6M586.38 617.5v1.6M586.38 323.5v-1.6M590.5 308.5v3M590.5 617.5v3M590.5 323.5v-3M594.62 308.5v1.6M594.62 617.5v1.6M594.62 323.5v-1.6M598.74 308.5v1.6M598.74 617.5v1.6M598.74 323.5v-1.6M602.86 308.5v1.6M602.86 617.5v1.6M602.86 323.5v-1.6M606.98 308.5v1.6M606.98 617.5v1.6M606.98 323.5v-1.6M611.1 308.5v3M611.1 617.5v3M611.1 323.5v-3M615.22 308.5v1.6M615.22 617.5v1.6M615.22 323.5v-1.6M619.34 308.5v1.6M619.34 617.5v1.6M619.34 323.5v-1.6M623.46 308.5v1.6M623.46 617.5v1.6M623.46 323.5v-1.6M627.58 308.5v1.6M627.58 617.5v1.6M627.58 323.5v-1.6M631.7 308.5v3M631.7 617.5v3M631.7 323.5v-3M635.82 308.5v1.6M635.82 617.5v1.6M635.82 323.5v-1.6M639.94 308.5v1.6M639.94 617.5v1.6M639.94 323.5v-1.6M644.06 308.5v1.6M644.06 617.5v1.6M644.06 323.5v-1.6M648.18 308.5v1.6M648.18 617.5v1.6M648.18 323.5v-1.6M652.3 308.5v3M652.3 617.5v3M652.3 323.5v-3M656.42 308.5v3M656.42 617.5v3M656.42 323.5v-3M660.54 308.5v1.6M660.54 617.5v1.6M660.54 323.5v-1.6M664.66 308.5v1.6M664.66 617.5v1.6M664.66 323.5v-1.6M668.78 308.5v3M668.78 617.5v3M668.78 323.5v-3M672.9 308.5v1.6M672.9 617.5v1.6M672.9 323.5v-1.6M677.02 308.5v1.6M677.02 617.5v1.6M677.02 323.5v-1.6M681.14 308.5v1.6M681.14 617.5v1.6M681.14 323.5v-1.6M685.26 308.5v1.6M685.26 617.5v1.6M685.26 323.5v-1.6M689.38 308.5v3M689.38 617.5v3M689.38 323.5v-3M693.5 308.5v1.6M693.5 617.5v1.6M693.5 323.5v-1.6M697.62 308.5v1.6M697.62 617.5v1.6M697.62 323.5v-1.6M701.74 308.5v1.6M701.74 617.5v1.6M701.74 323.5v-1.6M705.86 308.5v1.6M705.86 617.5v1.6M705.86 323.5v-1.6M709.98 308.5v3M709.98 617.5v3M709.98 323.5v-3M714.1 308.5v1.6M714.1 617.5v1.6M714.1 323.5v-1.6M718.22 308.5v1.6M718.22 617.5v1.6M718.22 323.5v-1.6M722.34 308.5v1.6M722.34 617.5v1.6M722.34 323.5v-1.6M726.46 308.5v1.6M726.46 617.5v1.6M726.46 323.5v-1.6M730.58 308.5v3M730.58 617.5v3M730.58 323.5v-3M734.7 308.5v1.6M734.7 617.5v1.6M734.7 323.5v-1.6M738.82 308.5v1.6M738.82 617.5v1.6M738.82 323.5v-1.6M742.94 308.5v1.6M742.94 617.5v1.6M742.94 323.5v-1.6M747.06 308.5v3M747.06 617.5v3M747.06 323.5v-3M751.18 308.5v3M751.18 617.5v3M751.18 323.5v-3M755.3 308.5v1.6M755.3 617.5v1.6M755.3 323.5v-1.6M759.42 308.5v1.6M759.42 617.5v1.6M759.42 323.5v-1.6M763.54 308.5v1.6M763.54 617.5v1.6M763.54 323.5v-1.6M767.66 308.5v1.6M767.66 617.5v1.6M767.66 323.5v-1.6M771.78 308.5v3M771.78 617.5v3M771.78 323.5v-3M775.9 308.5v1.6M775.9 617.5v1.6M775.9 323.5v-1.6M780.02 308.5v1.6M780.02 617.5v1.6M780.02 323.5v-1.6M784.14 308.5v1.6M784.14 617.5v1.6M784.14 323.5v-1.6M788.26 308.5v1.6M788.26 617.5v1.6M788.26 323.5v-1.6M792.38 308.5v3M792.38 617.5v3M792.38 323.5v-3M796.5 308.5v1.6M796.5 617.5v1.6M796.5 323.5v-1.6M800.62 308.5v1.6M800.62 617.5v1.6M800.62 323.5v-1.6" stroke="#b0b0b0" stroke-width="0.8" fill="none"/>
<path d="M806.5 307.99h1.6M806.5 303.68h3M806.5 299.38h1.6M806.5 295.07h1.6M806.5 290.76h1.6M806.5 286.46h1.6M806.5 282.15h3M806.5 277.85h1.6M806.5 273.54h1.6M806.5 269.23h1.6M806.5 264.93h1.6M806.5 260.62h3M806.5 256.31h1.6M806.5 252.01h1.6M806.5 247.7h1.6M806.5 243.39h1.6M806.5 239.09h3M806.5 234.78h1.6M806.5 230.48h1.6M806.5 226.17h1.6M806.5 221.86h1.6M806.5 217.56h3M806.5 213.25h1.6M806.5 208.94h1.6M806.5 204.64h1.6M806.5 200.33h1.6M806.5 196.02h3M806.5 191.72h1.6M806.5 187.41h1.6M806.5 183.1h1.6M806.5 178.8h1.6M806.5 174.49h3M806.5 170.19h1.6M806.5 165.88h1.6M806.5 161.57h1.6M806.5 157.27h1.6M806.5 152.96h3M806.5 148.65h1.6M806.5 144.35h1.6M806.5 140.04h1.6M806.5 135.73h1.6M806.5 131.43h3M806.5 127.12h1.6M806.5 122.82h1.6M806.5 118.51h1.6M806.5 114.2h1.6M806.5 109.9h3M806.5 105.59h1.6M806.5 101.28h1.6M806.5 96.98h1.6M806.5 92.67h1.6M806.5 88.36h3M806.5 84.06h1.6M806.5 79.75h1.6M806.5 75.44h1.6M806.5 71.14h1.6M806.5 66.83h3M806.5 62.53h1.6M806.5 58.22h1.6M806.5 53.91h1.6M806.5 49.61h1.6M806.5 45.3h3M806.5 40.99h1.6M806.5 36.69h1.6M806.5 416.54h1.6M806.5 412.3h3M806.5 408.06h1.6M806.5 403.82h1.6M806.5 399.58h1.6M806.5 395.34h1.6M806.5 391.1h3M806.5 386.86h1.6M806.5 382.62h1.6M806.5 378.38h1.6M806.5 374.14h1.6M806.5 369.9h3M806.5 365.66h1.6M806.5 361.42h1.6M806.5 357.18h1.6M806.5 352.94h1.6M806.5 348.7h3M806.5 344.46h1.6M806.5 340.22h1.6M806.5 335.98h1.6M806.5 331.74h1.6M806.5 327.5h3M806.5 517.52h3M806.5 514.56h1.6M806.5 511.59h1.6M806.5 508.63h1.6M806.5 505.66h1.6M806.5 502.7h3M806.5 499.74h1.6M806.5 496.77h1.6M806.5 493.81h1.6M806.5 490.84h1.6M806.5 487.88h3M806.5 484.92h1.6M806.5 481.95h1.6M806.5 478.99h1.6M806.5 476.02h1.6M806.5 473.06h3M806.5 470.1h1.6M806.5 467.13h1.6M806.5 464.17h1.6M806.5 461.2h1.6M806.5 458.24h3M806.5 455.28h1.6M806.5 452.31h1.6M806.5 449.35h1.6M806.5 446.38h1.6M806.5 443.42h3M806.5 440.46h1.6M806.5 437.49h1.6M806.5 434.53h1.6M806.5 431.56h1.6M806.5 428.6h3M806.5 425.64h1.6M806.5 422.67h1.6M806.5 615.6h1.6M806.5 611.6h1.6M806.5 607.6h1.6M806.5 603.6h3M806.5 599.6h1.6M806.5 595.6h1.6M806.5 591.6h1.6M806.5 587.6h1.6M806.5 583.6h3M806.5 579.6h1.6M806.5 575.6h1.6M806.5 571.6h1.6M806.5 567.6h1.6M806.5 563.6h3M806.5 559.6h1.6M806.5 555.6h1.6M806.5 551.6h1.6M806.5 547.6h1.6M806.5 543.6h3M806.5 539.6h1.6M806.5 535.6h1.6M806.5 531.6h1.6M806.5 527.6h1.6M806.5 523.6h3M32.5 287.7h-2.5M32.5 267.1h-2.5M32.5 246.5h-2.5M32.5 225.9h-2.5" stroke="#b0b0b0" stroke-width="0.8" fill="none"/>
<rect x="34" y="31" width="132" height="12" fill="#fff"/>
<rect x="34" y="42" width="108" height="10.5" fill="#fff"/>
<rect x="34" y="325" width="128" height="11.5" fill="#fff"/>
<rect x="34" y="423" width="114" height="11.5" fill="#fff"/>
<rect x="34" y="521" width="93" height="11.5" fill="#fff"/>
<g stroke-dasharray="6.7 3.2" fill="none">
<path d="M760 249L804 264M626 336L803 370.5M638 411.5L801 444M652 511.5L797 556" stroke="#666" stroke-opacity="0.5" stroke-width="2.8" transform="translate(0.8 1.9)" filter="url(#bl)"/>
<path d="M760 249L804 264M626 336L803 370.5M638 411.5L801 444M652 511.5L797 556" stroke="#000" stroke-width="2.2"/>
</g>
<g font-family="'Liberation Sans',Arial,sans-serif" fill="#000" opacity="0.999" text-rendering="geometricPrecision">
<text x="32.3" y="14.6" font-size="12.8" font-weight="bold" textLength="33.3" lengthAdjust="spacingAndGlyphs">$SPX</text>
<text x="69.5" y="13.9" font-size="9.7" textLength="123" lengthAdjust="spacingAndGlyphs">S&amp;P 500 Large Cap Index</text>
<text x="198" y="13.9" font-size="8.4" textLength="22.6" lengthAdjust="spacingAndGlyphs">INDX</text>
<text x="32.5" y="26.6" font-size="9.6" textLength="60.5" lengthAdjust="spacingAndGlyphs">20-Aug-2014</text>
<text x="716.8" y="14" font-size="10" font-weight="bold" fill="#444">©</text>
<text x="726.3" y="14" font-size="10.4" fill="#444" textLength="79.6" lengthAdjust="spacingAndGlyphs">StockCharts.com</text>
<text x="323.5" y="26.5" font-size="10.2" font-weight="bold" textLength="28.3" lengthAdjust="spacingAndGlyphs">Open</text>
<text x="356.8" y="26.5" font-size="10.2" textLength="36.7" lengthAdjust="spacingAndGlyphs">1980.46</text>
<text x="400.9" y="26.5" font-size="10.2" font-weight="bold" textLength="22.6" lengthAdjust="spacingAndGlyphs">High</text>
<text x="428.8" y="26.5" font-size="10.2" textLength="36.8" lengthAdjust="spacingAndGlyphs">1988.57</text>
<text x="472.9" y="26.5" font-size="10.2" font-weight="bold" textLength="22.7" lengthAdjust="spacingAndGlyphs">Low</text>
<text x="500.3" y="26.5" font-size="10.2" textLength="37.3" lengthAdjust="spacingAndGlyphs">1977.68</text>
<text x="544.8" y="26.5" font-size="10.2" font-weight="bold" textLength="31.1" lengthAdjust="spacingAndGlyphs">Close</text>
<text x="580.7" y="26.5" font-size="10.2" textLength="37.1" lengthAdjust="spacingAndGlyphs">1986.51</text>
<text x="625.1" y="26.5" font-size="10.2" font-weight="bold" textLength="41.3" lengthAdjust="spacingAndGlyphs">Volume</text>
<text x="671.8" y="26.5" font-size="10.2" textLength="20" lengthAdjust="spacingAndGlyphs">1.5B</text>
<text x="698.8" y="26.5" font-size="10.2" font-weight="bold" textLength="20.7" lengthAdjust="spacingAndGlyphs">Chg</text>
<text x="724.2" y="26.5" font-size="10.2" textLength="25.5" lengthAdjust="spacingAndGlyphs">+4.91</text>
<text x="754.4" y="26.5" font-size="10.2" textLength="41.3" lengthAdjust="spacingAndGlyphs">(+0.25%)</text>
<path d="M799 25.4L802.6 21.4L806.2 25.4Z" fill="#1d5c1d"/>
<text x="810.6" y="307.28" font-size="10" letter-spacing="0.1">1740</text>
<text x="810.6" y="285.75" font-size="10" letter-spacing="0.1">1760</text>
<text x="810.6" y="264.22" font-size="10" letter-spacing="0.1">1780</text>
<text x="810.6" y="242.69" font-size="10" letter-spacing="0.1">1800</text>
<text x="810.6" y="221.16" font-size="10" letter-spacing="0.1">1820</text>
<text x="810.6" y="199.62" font-size="10" letter-spacing="0.1">1840</text>
<text x="810.6" y="178.09" font-size="10" letter-spacing="0.1">1860</text>
<text x="810.6" y="156.56" font-size="10" letter-spacing="0.1">1880</text>
<text x="810.6" y="135.03" font-size="10" letter-spacing="0.1">1900</text>
<text x="810.6" y="113.5" font-size="10" letter-spacing="0.1">1920</text>
<text x="810.6" y="91.96" font-size="10" letter-spacing="0.1">1940</text>
<text x="810.6" y="70.43" font-size="10" letter-spacing="0.1">1960</text>
<text x="810.6" y="48.9" font-size="10" letter-spacing="0.1">1980</text>
<text x="827.6" y="415.9" font-size="10" letter-spacing="0.1" text-anchor="end">60</text>
<text x="827.6" y="394.7" font-size="10" letter-spacing="0.1" text-anchor="end">80</text>
<text x="827.6" y="373.5" font-size="10" letter-spacing="0.1" text-anchor="end">100</text>
<text x="827.6" y="352.3" font-size="10" letter-spacing="0.1" text-anchor="end">120</text>
<text x="827.6" y="331.1" font-size="10" letter-spacing="0.1" text-anchor="end">140</text>
<text x="810.2" y="506.3" font-size="10" letter-spacing="0.1">65</text>
<text x="810.2" y="491.48" font-size="10" letter-spacing="0.1">70</text>
<text x="810.2" y="476.66" font-size="10" letter-spacing="0.1">75</text>
<text x="810.2" y="461.84" font-size="10" letter-spacing="0.1">80</text>
<text x="810.2" y="447.02" font-size="10" letter-spacing="0.1">85</text>
<text x="810.2" y="432.2" font-size="10" letter-spacing="0.1">90</text>
<text x="827" y="607.2" font-size="10" letter-spacing="0.1" text-anchor="end">0</text>
<text x="827" y="587.2" font-size="10" letter-spacing="0.1" text-anchor="end">200</text>
<text x="827" y="567.2" font-size="10" letter-spacing="0.1" text-anchor="end">400</text>
<text x="827" y="547.2" font-size="10" letter-spacing="0.1" text-anchor="end">600</text>
<text x="827" y="527.2" font-size="10" letter-spacing="0.1" text-anchor="end">800</text>
<text x="29.4" y="291.3" font-size="10" letter-spacing="0.1" text-anchor="end">1B</text>
<text x="29.4" y="270.7" font-size="10" letter-spacing="0.1" text-anchor="end">2B</text>
<text x="29.4" y="250.1" font-size="10" letter-spacing="0.1" text-anchor="end">3B</text>
<text x="29.4" y="229.5" font-size="10" letter-spacing="0.1" text-anchor="end">4B</text>
<text x="59.32" y="320.0" font-size="10.9" font-weight="bold" text-anchor="middle">Dec</text>
<text x="144.64" y="320.0" font-size="10.9" font-weight="bold" text-anchor="middle">2014</text>
<text x="232.36" y="320.0" font-size="10.9" font-weight="bold" text-anchor="middle">Feb</text>
<text x="310.64" y="320.0" font-size="10.9" font-weight="bold" text-anchor="middle">Mar</text>
<text x="397.16" y="320.0" font-size="10.9" font-weight="bold" text-anchor="middle">Apr</text>
<text x="483.68" y="320.0" font-size="10.9" font-weight="bold" text-anchor="middle">May</text>
<text x="570.2" y="320.0" font-size="10.9" font-weight="bold" text-anchor="middle">Jun</text>
<text x="656.72" y="320.0" font-size="10.9" font-weight="bold" text-anchor="middle">Jul</text>
<text x="747.36" y="320.0" font-size="10.9" font-weight="bold" text-anchor="middle">Aug</text>
<text x="41.44" y="320.0" font-size="10.1" text-anchor="middle">25</text>
<text x="79.32" y="320.0" font-size="10.1" text-anchor="middle">9</text>
<text x="99.92" y="320.0" font-size="10.1" text-anchor="middle">16</text>
<text x="120.52" y="320.0" font-size="10.1" text-anchor="middle">23</text>
<text x="174.08" y="320.0" font-size="10.1" text-anchor="middle">13</text>
<text x="194.68" y="320.0" font-size="10.1" text-anchor="middle">21</text>
<text x="211.16" y="320.0" font-size="10.1" text-anchor="middle">27</text>
<text x="252.36" y="320.0" font-size="10.1" text-anchor="middle">10</text>
<text x="272.96" y="320.0" font-size="10.1" text-anchor="middle">18</text>
<text x="289.44" y="320.0" font-size="10.1" text-anchor="middle">24</text>
<text x="330.64" y="320.0" font-size="10.1" text-anchor="middle">10</text>
<text x="351.24" y="320.0" font-size="10.1" text-anchor="middle">17</text>
<text x="371.84" y="320.0" font-size="10.1" text-anchor="middle">24</text>
<text x="413.04" y="320.0" font-size="10.1" text-anchor="middle">7</text>
<text x="433.64" y="320.0" font-size="10.1" text-anchor="middle">14</text>
<text x="450.12" y="320.0" font-size="10.1" text-anchor="middle">21</text>
<text x="511.92" y="320.0" font-size="10.1" text-anchor="middle">12</text>
<text x="532.52" y="320.0" font-size="10.1" text-anchor="middle">19</text>
<text x="553.12" y="320.0" font-size="10.1" text-anchor="middle">27</text>
<text x="590.2" y="320.0" font-size="10.1" text-anchor="middle">9</text>
<text x="610.8" y="320.0" font-size="10.1" text-anchor="middle">16</text>
<text x="631.4" y="320.0" font-size="10.1" text-anchor="middle">23</text>
<text x="668.48" y="320.0" font-size="10.1" text-anchor="middle">7</text>
<text x="689.08" y="320.0" font-size="10.1" text-anchor="middle">14</text>
<text x="709.68" y="320.0" font-size="10.1" text-anchor="middle">21</text>
<text x="730.28" y="320.0" font-size="10.1" text-anchor="middle">28</text>
<text x="771.48" y="320.0" font-size="10.1" text-anchor="middle">11</text>
<text x="792.08" y="320.0" font-size="10.1" text-anchor="middle">18</text>
<text x="59.32" y="628.3" font-size="10.9" font-weight="bold" text-anchor="middle">Dec</text>
<text x="144.64" y="628.3" font-size="10.9" font-weight="bold" text-anchor="middle">2014</text>
<text x="232.36" y="628.3" font-size="10.9" font-weight="bold" text-anchor="middle">Feb</text>
<text x="310.64" y="628.3" font-size="10.9" font-weight="bold" text-anchor="middle">Mar</text>
<text x="397.16" y="628.3" font-size="10.9" font-weight="bold" text-anchor="middle">Apr</text>
<text x="483.68" y="628.3" font-size="10.9" font-weight="bold" text-anchor="middle">May</text>
<text x="570.2" y="628.3" font-size="10.9" font-weight="bold" text-anchor="middle">Jun</text>
<text x="656.72" y="628.3" font-size="10.9" font-weight="bold" text-anchor="middle">Jul</text>
<text x="747.36" y="628.3" font-size="10.9" font-weight="bold" text-anchor="middle">Aug</text>
<text x="41.44" y="628.3" font-size="10.1" text-anchor="middle">25</text>
<text x="79.32" y="628.3" font-size="10.1" text-anchor="middle">9</text>
<text x="99.92" y="628.3" font-size="10.1" text-anchor="middle">16</text>
<text x="120.52" y="628.3" font-size="10.1" text-anchor="middle">23</text>
<text x="174.08" y="628.3" font-size="10.1" text-anchor="middle">13</text>
<text x="194.68" y="628.3" font-size="10.1" text-anchor="middle">21</text>
<text x="211.16" y="628.3" font-size="10.1" text-anchor="middle">27</text>
<text x="252.36" y="628.3" font-size="10.1" text-anchor="middle">10</text>
<text x="272.96" y="628.3" font-size="10.1" text-anchor="middle">18</text>
<text x="289.44" y="628.3" font-size="10.1" text-anchor="middle">24</text>
<text x="330.64" y="628.3" font-size="10.1" text-anchor="middle">10</text>
<text x="351.24" y="628.3" font-size="10.1" text-anchor="middle">17</text>
<text x="371.84" y="628.3" font-size="10.1" text-anchor="middle">24</text>
<text x="413.04" y="628.3" font-size="10.1" text-anchor="middle">7</text>
<text x="433.64" y="628.3" font-size="10.1" text-anchor="middle">14</text>
<text x="450.12" y="628.3" font-size="10.1" text-anchor="middle">21</text>
<text x="511.92" y="628.3" font-size="10.1" text-anchor="middle">12</text>
<text x="532.52" y="628.3" font-size="10.1" text-anchor="middle">19</text>
<text x="553.12" y="628.3" font-size="10.1" text-anchor="middle">27</text>
<text x="590.2" y="628.3" font-size="10.1" text-anchor="middle">9</text>
<text x="610.8" y="628.3" font-size="10.1" text-anchor="middle">16</text>
<text x="631.4" y="628.3" font-size="10.1" text-anchor="middle">23</text>
<text x="668.48" y="628.3" font-size="10.1" text-anchor="middle">7</text>
<text x="689.08" y="628.3" font-size="10.1" text-anchor="middle">14</text>
<text x="709.68" y="628.3" font-size="10.1" text-anchor="middle">21</text>
<text x="730.28" y="628.3" font-size="10.1" text-anchor="middle">28</text>
<text x="771.48" y="628.3" font-size="10.1" text-anchor="middle">11</text>
<text x="792.08" y="628.3" font-size="10.1" text-anchor="middle">18</text>
</g>
<g font-family="'DejaVu Sans',Verdana,sans-serif" fill="#000" font-size="9.4" opacity="0.999" text-rendering="geometricPrecision">
<text x="47.7" y="40.2" textLength="117.3" lengthAdjust="spacingAndGlyphs">$SPX (Daily) 1986.51</text>
<text x="47.7" y="334.1" textLength="111.5" lengthAdjust="spacingAndGlyphs">$BPSPX:$CPC 84.42</text>
<text x="47.7" y="432.1" textLength="98.7" lengthAdjust="spacingAndGlyphs">$SPXA200R 82.20</text>
<text x="47.7" y="530.1" textLength="76.6" lengthAdjust="spacingAndGlyphs">$NYHL 287.00</text>
</g>
<text x="46.2" y="49.6" font-size="8.3" font-family="'DejaVu Sans',Verdana,sans-serif" fill="#111" opacity="0.999" text-rendering="geometricPrecision">Volume 1,537,624,704</text>
<path d="M35 36h8.6M35 330h8.6M35 428h8.6M35 526h8.6" stroke="#000" stroke-width="2"/>
<path d="M35.9 49.8v-4.8M38.2 49.8v-6.8M40.5 49.8v-6M42.8 49.8v-5.2" stroke="#333" stroke-width="2"/>
</svg>
</body></html>
